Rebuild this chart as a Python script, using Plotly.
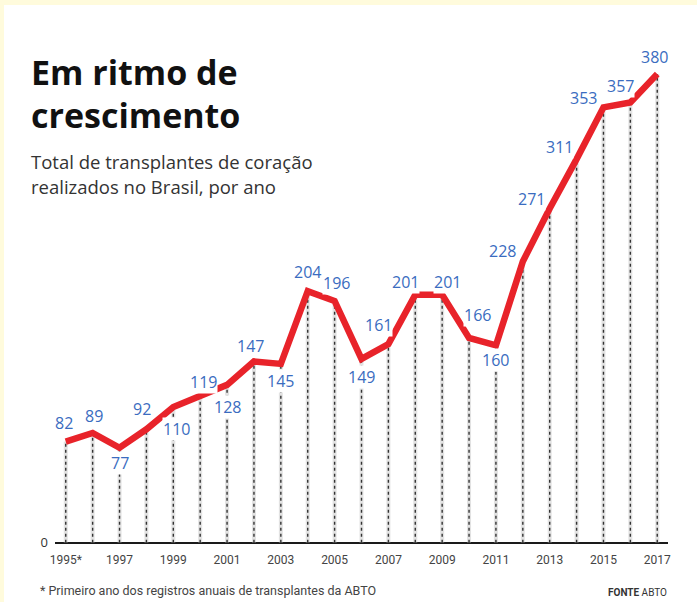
import plotly.graph_objects as go

years = list(range(1995, 2018))
values = [82, 89, 77, 92, 110, 119, 128, 147, 145, 204, 196, 149, 161, 201, 201,
          166, 160, 228, 271, 311, 353, 357, 380]
tick_years = [1995, 1997, 1999, 2001, 2003, 2005, 2007, 2009, 2011, 2013, 2015, 2017]
tick_labels = ["1995*", "1997", "1999", "2001", "2003", "2005", "2007", "2009",
               "2011", "2013", "2015", "2017"]

# label offsets (style): (xshift, yshift) in px
label_shift = [(-2, 19), (1, 17), (0, -15), (-4, 20), (3, -22), (3, 14), (0, -22),
               (-3, 15), (0, -17), (0, 19), (2, 18), (0, -18), (-10, 19), (-10, 13),
               (5, 13), (8, 23), (0, -15), (-20, 11), (-18, 9), (-17, 12), (-20, 9),
               (-10, 16), (-3, 17)]

W, H = 697, 602
x0, x1 = 55, 668
ybase = 544

fig = go.Figure()

# dotted droplines
dx, dy = [], []
for yr, v in zip(years, values):
    dx += [yr, yr, None]
    dy += [0, v, None]
fig.add_trace(go.Scatter(x=dx, y=dy, mode="lines",
                         line=dict(color="rgba(190,190,190,0.45)", width=4),
                         hoverinfo="skip", showlegend=False))
fig.add_trace(go.Scatter(x=dx, y=dy, mode="lines",
                         line=dict(color="#333333", width=1.4, dash="dot"),
                         hoverinfo="skip", showlegend=False))
# red line
fig.add_trace(go.Scatter(x=years, y=values, mode="lines",
                         line=dict(color="#e8232a", width=6.5),
                         showlegend=False))

for yr, v, (xs, ys) in zip(years, values, label_shift):
    fig.add_annotation(x=yr, y=v, xref="x", yref="y", text=str(v), showarrow=False,
                       xshift=xs, yshift=ys, bgcolor="white", borderpad=0,
                       font=dict(family="Open Sans", size=16, color="#3a6cc0"))

fig.update_layout(
    width=W, height=H,
    margin=dict(l=0, r=0, t=0, b=0),
    paper_bgcolor="white", plot_bgcolor="rgba(0,0,0,0)",
    xaxis=dict(domain=[x0 / W, x1 / W], range=[1994.6, 2017.4],
               tickvals=tick_years, ticktext=tick_labels, showgrid=False,
               zeroline=False, showline=False,
               ticks="", automargin=False, ticklabelstandoff=7,
               tickfont=dict(family="Roboto", size=12, color="#444444")),
    yaxis=dict(domain=[(H - ybase) / H, 1], range=[-1, 440], tickvals=[0],
               ticktext=["0"], showgrid=False, zeroline=True,
               zerolinecolor="#1a1a1a", zerolinewidth=2, showline=False,
               ticks="", automargin=False, ticklabelstandoff=6,
               tickfont=dict(family="Open Sans", size=13, color="#333333")),
)

# yellow frame (top & left)
fig.add_shape(type="rect", xref="paper", yref="paper", x0=0, x1=1, y0=1 - 5 / H, y1=1,
              fillcolor="#fffbdc", line=dict(width=0), layer="above")
fig.add_shape(type="rect", xref="paper", yref="paper", x0=0, x1=4 / W, y0=0, y1=1,
              fillcolor="#fffbdc", line=dict(width=0), layer="above")

def px(xp, yp):
    return xp / W, 1 - yp / H

def txt(x, y, s, size, color, anchor="left", family="Open Sans"):
    tx, ty = px(x, y)
    fig.add_annotation(x=tx, y=ty, xref="paper", yref="paper", xanchor=anchor,
                       yanchor="middle", text=s, showarrow=False,
                       font=dict(family=family, size=size, color=color))

txt(29, 72, "<b>Em ritmo de</b>", 34, "#111111")
txt(29, 115, "<b>crescimento</b>", 34, "#111111")
txt(29, 161, "Total de transplantes de coração", 18.5, "#333333")
txt(29, 186, "realizados no Brasil, por ano", 18.5, "#333333")
txt(38, 590, "* Primeiro ano dos registros anuais de transplantes da ABTO", 12.5,
    "#444444", family="Roboto")
txt(669, 592, "<b>FONTE</b> ABTO", 10, "#333333", anchor="right", family="Roboto")

fig.write_html("out.html", config={"displayModeBar": False},
               post_script="document.body.style.margin='0';document.body.style.padding='0';")
